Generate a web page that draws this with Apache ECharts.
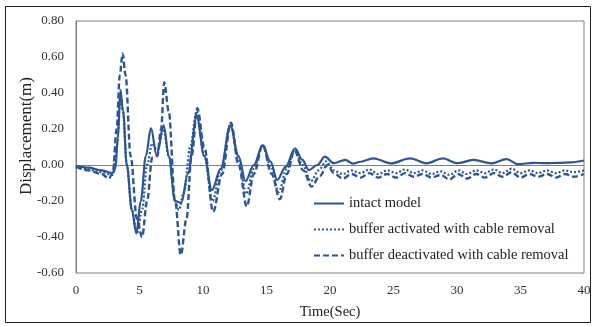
<!DOCTYPE html>
<html>
<head>
<meta charset="utf-8">
<script src="https://cdn.jsdelivr.net/npm/echarts@6/dist/echarts.min.js"></script>
<style>html,body{margin:0;padding:0;background:#fff}#c{width:596px;height:327px}</style>
</head>
<body>
<div id="c"></div>
<script>
var seriesNames = ['intact model', 'buffer activated with cable removal', 'buffer deactivated with cable removal'];
var xTicks = [0, 5, 10, 15, 20, 25, 30, 35, 40];
var yTicks = [-0.6, -0.4, -0.2, 0, 0.2, 0.4, 0.6, 0.8];
var yTitle = 'Displacement(m)';
var xTitle = 'Time(Sec)';

var intactT = [0, 1, 2, 2.9, 3.1, 3.3, 3.5, 3.7, 4.0, 4.4, 4.75, 5.1, 5.5, 5.9, 6.35, 6.9, 7.3, 7.8, 8.3, 8.8, 9.5, 10.1, 10.7, 11.4, 12.15, 12.8, 13.35, 14.0, 14.7, 15.3, 15.85, 16.5, 17.25, 17.8, 18.35, 19.0, 19.6, 20.3, 21.2, 21.8, 22.4, 23.4, 24.8, 26.3, 27.6, 28.9, 30.0, 31.3, 32.7, 33.9, 34.8, 36, 37, 38, 39, 40];
var intactY = [-0.005, -0.015, -0.03, -0.045, -0.02, 0.15, 0.417, 0.3, 0.0, -0.25, -0.38, -0.2, 0.05, 0.205, 0.055, 0.22, 0.05, -0.2, -0.21, -0.05, 0.27, 0.05, -0.14, -0.02, 0.22, 0.05, -0.09, 0.0, 0.11, 0.02, -0.083, -0.01, 0.093, 0.03, -0.028, 0.0, 0.046, 0.01, 0.028, 0.008, 0.018, 0.037, 0.009, 0.037, 0.009, 0.037, 0.01, 0.028, 0.009, 0.033, 0.005, 0.012, 0.01, 0.012, 0.015, 0.025];

var activT = [0, 1, 2, 2.9, 3.2, 3.5, 3.7, 4.0, 4.4, 4.8, 5.2, 5.6, 6.0, 6.4, 6.9, 7.3, 7.8, 8.1, 8.5, 9.0, 9.5, 10.1, 10.75, 11.4, 12.15, 12.8, 13.4, 14.0, 14.7, 15.35, 15.95, 16.6, 17.2, 17.85, 18.5, 19.1, 19.7, 20.3, 21.0, 21.7, 22.4, 23.1, 23.8, 24.5, 25.2, 25.9, 26.6, 27.3, 28.0, 28.7, 29.4, 30.1, 30.8, 31.5, 32.2, 32.9, 33.6, 34.3, 35.0, 35.7, 36.4, 37.1, 37.8, 38.5, 39.2, 40];
var activY = [-0.01, -0.025, -0.04, -0.055, 0.1, 0.38, 0.3, 0.0, -0.25, -0.38, -0.25, 0.0, 0.12, 0.08, 0.2, 0.05, -0.2, -0.25, -0.15, 0.1, 0.3, 0.05, -0.2, -0.03, 0.225, 0.03, -0.16, -0.02, 0.11, -0.01, -0.15, -0.02, 0.085, 0.0, -0.09, -0.03, 0.02, -0.03, -0.05, -0.03, -0.045, -0.025, -0.05, -0.03, -0.045, -0.025, -0.045, -0.03, -0.05, -0.035, -0.055, -0.03, -0.05, -0.03, -0.045, -0.025, -0.045, -0.02, -0.045, -0.03, -0.045, -0.03, -0.045, -0.03, -0.04, -0.03];

var deactT = [0, 1, 2, 2.6, 2.9, 3.2, 3.45, 3.67, 3.9, 4.3, 4.8, 5.2, 5.6, 6.0, 6.4, 6.7, 6.95, 7.3, 7.8, 8.25, 8.7, 9.1, 9.55, 10.1, 10.8, 11.5, 12.2, 12.8, 13.45, 14.0, 14.7, 15.4, 16.05, 16.6, 17.2, 17.9, 18.55, 19.2, 19.8, 20.3, 21.0, 21.7, 22.4, 23.1, 23.8, 24.5, 25.2, 25.9, 26.6, 27.3, 28.0, 28.7, 29.4, 30.1, 30.8, 31.5, 32.2, 32.9, 33.6, 34.3, 35.0, 35.7, 36.4, 37.1, 37.8, 38.5, 39.2, 40];
var deactY = [-0.01, -0.03, -0.05, -0.075, -0.04, 0.2, 0.5, 0.62, 0.5, 0.05, -0.3, -0.40, -0.2, 0.04, 0.05, 0.2, 0.46, 0.3, -0.2, -0.50, -0.3, 0.05, 0.315, 0.1, -0.26, -0.05, 0.235, 0.0, -0.23, -0.05, 0.11, -0.05, -0.19, -0.05, 0.08, -0.03, -0.12, -0.06, 0.0, -0.045, -0.075, -0.05, -0.07, -0.045, -0.07, -0.05, -0.07, -0.045, -0.065, -0.05, -0.07, -0.055, -0.08, -0.05, -0.075, -0.05, -0.07, -0.045, -0.065, -0.04, -0.07, -0.05, -0.065, -0.05, -0.07, -0.05, -0.065, -0.05];

function zip(t, y) { return t.map(function (v, i) { return [v, y[i]]; }); }

var COLOR = '#2b5693';
var FONT = '"Liberation Serif", "Times New Roman", serif';

var chart = echarts.init(document.getElementById('c'), null, { renderer: 'canvas' });
function mkSeries(name, t, y, type, width) {
  return {
    name: name, type: 'line', data: zip(t, y), symbol: 'none', smooth: 0.35, smoothMonotone: 'x',
    lineStyle: { color: COLOR, width: width, type: type, cap: 'butt' }, itemStyle: { color: COLOR }
  };
}
chart.setOption({
  animation: false,
  backgroundColor: '#fff',
  grid: { left: 76, right: 12, top: 21, bottom: 54, show: true, borderColor: '#808080', borderWidth: 1 },
  graphic: [
    { type: 'rect', shape: { x: 5.5, y: 6.5, width: 585, height: 316 }, style: { fill: 'none', stroke: '#222', lineWidth: 1 }, silent: true },
    { type: 'text', x: 27, y: 136, rotation: Math.PI / 2, silent: true,
      style: { text: yTitle, font: '17px ' + FONT, fill: '#222', align: 'center', verticalAlign: 'middle' } }
  ],
  legend: {
    orient: 'vertical', left: 308, top: 191, itemWidth: 30, itemHeight: 14, itemGap: 11,
    itemStyle: { opacity: 0 },
    textStyle: { fontFamily: FONT, fontSize: 14.5, color: '#222' },
    data: seriesNames
  },
  xAxis: {
    type: 'value', min: 0, max: 40, interval: 5,
    name: xTitle, nameLocation: 'middle', nameGap: 32,
    nameTextStyle: { fontFamily: FONT, fontSize: 14.5, color: '#222' },
    axisLine: { lineStyle: { color: '#808080' } }, axisTick: { show: false }, splitLine: { show: false },
    axisLabel: { fontFamily: FONT, fontSize: 13, color: '#333', margin: 11 }
  },
  yAxis: {
    type: 'value', min: -0.6, max: 0.8, interval: 0.2,
    axisLine: { show: true, lineStyle: { color: '#808080' } }, axisTick: { show: false }, splitLine: { show: false },
    axisLabel: { fontFamily: FONT, fontSize: 13, color: '#333', margin: 12, formatter: function (v) { return v.toFixed(2); } }
  },
  series: [
    mkSeries(seriesNames[0], intactT, intactY, 'solid', 2.2),
    mkSeries(seriesNames[1], activT, activY, [2, 2], 2.2),
    mkSeries(seriesNames[2], deactT, deactY, [6, 3], 2.4)
  ]
});
</script>
</body>
</html>
